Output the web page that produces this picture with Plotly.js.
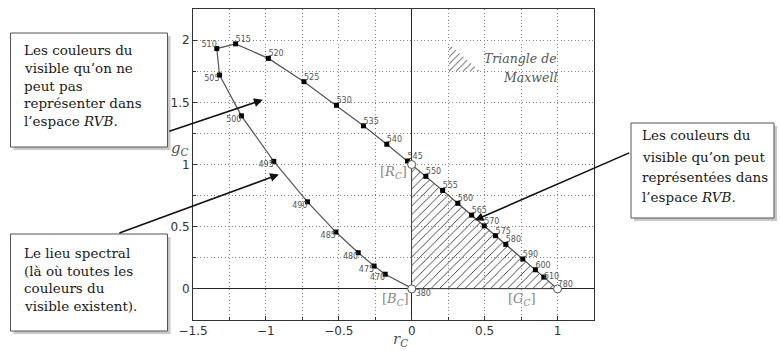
<!DOCTYPE html>
<html>
<head>
<meta charset="utf-8">
<script src="https://cdn.plot.ly/plotly-3.0.1.min.js"></script>
<style>html,body{margin:0;padding:0;background:#fff;}#chart{width:780px;height:351px;}</style>
</head>
<body>
<div id="chart"></div>
<script>
// Spectral locus (rC, gC chromaticity)
const wavelengths = [380, 470, 475, 480, 485, 490, 495, 500, 505, 510, 515, 520, 525, 530, 535, 540, 545, 550, 555, 560, 565, 570, 575, 580, 590, 600, 610, 780];
const rC = [0.027, -0.182, -0.258, -0.367, -0.520, -0.715, -0.946, -1.168, -1.318, -1.337, -1.208, -0.983, -0.739, -0.516, -0.331, -0.171, -0.029, 0.097, 0.212, 0.316, 0.411, 0.497, 0.575, 0.645, 0.762, 0.848, 0.906, 1.0];
const gC = [-0.012, 0.118, 0.184, 0.291, 0.457, 0.700, 1.025, 1.391, 1.719, 1.932, 1.970, 1.853, 1.666, 1.476, 1.311, 1.163, 1.028, 0.905, 0.792, 0.688, 0.593, 0.507, 0.428, 0.358, 0.240, 0.154, 0.095, 0.0];
const labelPos = ['bottom right', 'bottom left', 'bottom left', 'bottom left', 'bottom left', 'bottom left', 'bottom left', 'bottom left', 'bottom left', 'top left', 'top right', 'top right', 'top right', 'top right', 'top right', 'top right', 'top right', 'top right', 'top right', 'top right', 'top right', 'top right', 'top right', 'top right', 'top right', 'top right', 'middle right', 'top right'];

// Primaries (Maxwell triangle vertices)
const primaryNames = ['B', 'R', 'G'];
const primaryR = [0, 0, 1];
const primaryG = [0, 1, 0];

// Small key triangle for "Triangle de Maxwell"
const keyR = [0.256, 0.256, 0.466, 0.256];
const keyG = [1.968, 1.752, 1.752, 1.968];

// Arrow heads (data coords) and callout texts
const arrowR = [-1.021, -0.911, 0.432];
const arrowG = [1.52, 0.92, 0.552];
const box1Lines = ['Les couleurs du', 'visible qu\u2019on ne', 'peut pas', 'représenter dans', 'l\u2019espace <i>RVB</i>.'];
const box2Lines = ['Le lieu spectral', '(là où toutes les', 'couleurs du', 'visible existent).'];
const box3Lines = ['Les couleurs du', 'visible qu\u2019on peut', 'représentées dans', 'l\u2019espace <i>RVB</i>.'];

const xTicks = [-1.5, -1, -0.5, 0, 0.5, 1];
const yTicks = [0, 0.5, 1, 1.5, 2];

// ---- geometry helpers (pixel -> paper) ----
const ML = 193, MT = 9, PW = 401, PH = 311;
const px = v => (v - ML) / PW;
const py = v => (MT + PH - v) / PH;

const serif = 'DejaVu Serif, Liberation Serif, serif';
const sans = 'DejaVu Sans, Liberation Sans, sans-serif';

const traces = [
  { // hatched Maxwell triangle
    x: [primaryR[0], primaryR[1], primaryR[2], primaryR[0]],
    y: [primaryG[0], primaryG[1], primaryG[2], primaryG[0]],
    mode: 'lines', fill: 'toself', fillcolor: 'rgba(255,255,255,0)',
    fillpattern: {shape: '/', fgcolor: '#333', bgcolor: 'rgba(255,255,255,0)', size: 6, solidity: 0.15},
    line: {width: 0.6, color: '#777'}, hoverinfo: 'skip', showlegend: false
  },
  { // key triangle
    x: keyR, y: keyG, mode: 'lines', fill: 'toself', fillcolor: 'rgba(255,255,255,0)',
    fillpattern: {shape: '/', fgcolor: '#666', bgcolor: 'rgba(255,255,255,0)', size: 5, solidity: 0.18},
    line: {width: 0}, hoverinfo: 'skip', showlegend: false
  },
  { // spectral locus line
    x: rC, y: gC, mode: 'lines', line: {color: '#555', width: 1.2}, showlegend: false, hoverinfo: 'skip'
  },
  { // markers
    x: rC.slice(1, -1), y: gC.slice(1, -1),
    mode: 'markers', marker: {symbol: 'square', size: 5, color: '#000'}, showlegend: false
  },
  { // wavelength labels
    x: rC, y: gC, mode: 'text', text: wavelengths.map(String), textposition: labelPos,
    textfont: {family: sans, size: 8, color: '#555'}, showlegend: false, hoverinfo: 'skip'
  },
  { // primaries as open circles
    x: primaryR, y: primaryG, mode: 'markers', text: primaryNames,
    marker: {symbol: 'circle', size: 8, color: '#fff', line: {color: '#555', width: 1}}, showlegend: false
  }
];

const annotations = [];
function addLines(lines, left, centers, size) {
  lines.forEach((t, i) => annotations.push({
    xref: 'paper', yref: 'paper', x: px(left), y: py(centers[i]), xanchor: 'left', yanchor: 'middle',
    text: t, showarrow: false, font: {family: serif, size: size, color: '#1a1a1a'}
  }));
}
addLines(box1Lines, 22, [50, 67.7, 85.7, 103.3, 121], 13.5);
addLines(box2Lines, 22, [253.3, 271, 288.3, 306], 13.5);
addLines(box3Lines, 640, [135, 156.7, 176.7, 197.3], 13.5);

// arrows
const arrowTails = [[-95, 32], [-161, 59], [156, -68]];
arrowR.forEach((r, i) => annotations.push({
  x: r, y: arrowG[i], xref: 'x', yref: 'y', text: '', showarrow: true,
  ax: arrowTails[i][0], ay: arrowTails[i][1], arrowhead: 2, arrowsize: 1.1, arrowwidth: 1.6, arrowcolor: '#111'
}));

// primaries' bracket labels
const brFont = {family: serif, size: 13, color: '#888'};
annotations.push({xref: 'paper', yref: 'paper', x: px(393), y: py(183), yanchor: 'bottom', text: '[<i>R</i><sub><i>C</i></sub>]', showarrow: false, font: brFont});
annotations.push({xref: 'paper', yref: 'paper', x: px(395), y: py(310), yanchor: 'bottom', text: '[<i>B</i><sub><i>C</i></sub>]', showarrow: false, font: brFont});
annotations.push({xref: 'paper', yref: 'paper', x: px(538), y: py(310), yanchor: 'bottom', text: '[<i>G</i><sub><i>C</i></sub>]', showarrow: false, font: brFont});

// Triangle de Maxwell text
annotations.push({xref: 'paper', yref: 'paper', x: px(559), y: py(49), xanchor: 'right', text: '<i>Triangle de</i>', showarrow: false, font: {family: serif, size: 12.5, color: '#555'}});
annotations.push({xref: 'paper', yref: 'paper', x: px(559), y: py(68), xanchor: 'right', text: '<i>Maxwell</i>', showarrow: false, font: {family: serif, size: 12.5, color: '#555'}});

// axis titles
annotations.push({xref: 'paper', yref: 'paper', x: px(400), y: py(351), yanchor: 'bottom', text: '<i>r</i><sub><i>C</i></sub>', showarrow: false, font: {family: serif, size: 15, color: '#555'}});
annotations.push({xref: 'paper', yref: 'paper', x: px(191), y: py(160), xanchor: 'right', yanchor: 'bottom', text: '<i>g</i><sub><i>C</i></sub>', showarrow: false, font: {family: serif, size: 15, color: '#555'}});

// boxes (shadow + frame)
const shapes = [];
function addBox(x0, y0, x1, y1) {
  shapes.push({type: 'rect', xref: 'paper', yref: 'paper', x0: px(x0 + 3), x1: px(x1 + 3), y0: py(y0 + 3), y1: py(y1 + 3), fillcolor: '#c8c8c8', line: {width: 0}, layer: 'above'});
  shapes.push({type: 'rect', xref: 'paper', yref: 'paper', x0: px(x0), x1: px(x1), y0: py(y0), y1: py(y1), fillcolor: '#fff', line: {width: 1, color: '#555'}, layer: 'above'});
}
addBox(10.5, 33, 167.5, 147);
addBox(10.5, 234, 167.5, 331);
addBox(631, 123, 774, 218);

const axisCommon = {
  showline: true, mirror: true, linecolor: '#333', linewidth: 1,
  showgrid: true, gridcolor: '#888', griddash: '1px,2.5px', gridwidth: 1,
  zeroline: true, zerolinecolor: '#222', zerolinewidth: 1,
  ticks: 'inside', ticklen: 4, tickcolor: '#333',
  tickfont: {family: sans, size: 12, color: '#333'},
  minor: {dtick: 0.25, showgrid: true, gridcolor: '#888', griddash: '1px,2.5px', ticks: 'inside', ticklen: 3, tickcolor: '#333'}
};

const layout = {
  width: 780, height: 351,
  margin: {l: ML, r: 780 - ML - PW, t: MT, b: 351 - MT - PH},
  paper_bgcolor: '#fff', plot_bgcolor: '#fff',
  showlegend: false,
  xaxis: Object.assign({}, axisCommon, {range: [-1.5, 1.25], tickmode: 'array', tickvals: xTicks, ticktext: xTicks.map(v => (v < 0 ? '\u2212' : '') + Math.abs(v))}),
  yaxis: Object.assign({}, axisCommon, {range: [-0.25, 2.25], tickmode: 'array', tickvals: yTicks, ticktext: yTicks.map(String)}),
  annotations: annotations,
  shapes: shapes
};

Plotly.newPlot('chart', traces, layout, {staticPlot: true, displayModeBar: false});
</script>
</body>
</html>
